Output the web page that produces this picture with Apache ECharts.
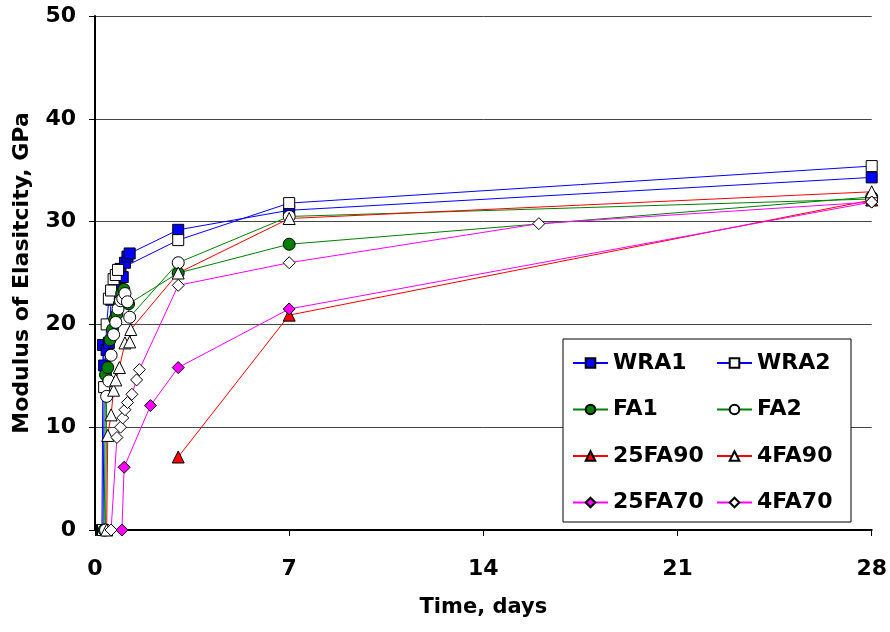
<!DOCTYPE html>
<html>
<head>
<meta charset="utf-8">
<script src="https://cdn.jsdelivr.net/npm/echarts@6/dist/echarts.min.js"></script>
<style>
html,body{margin:0;padding:0;background:#fff;}
#main{width:890px;height:632px;}
</style>
</head>
<body>
<div id="main"></div>
<script>
// days and modulus values (GPa)
var xTicks = [0, 7, 14, 21, 28];
var yTicks = [0, 10, 20, 30, 40, 50];

var wra1Days = [0.25, 0.29, 0.33, 0.42, 0.5, 0.58, 0.67, 0.75, 0.83, 0.92, 1.0, 1.08, 1.17, 1.25, 3, 7, 28];
var wra1Vals = [0, 18.0, 16.0, 17.5, 18.2, 22.4, 23.0, 23.8, 24.5, 25.4, 24.6, 26.0, 26.6, 26.9, 29.2, 31.1, 34.3];

var wra2Days = [0.29, 0.33, 0.42, 0.5, 0.58, 0.67, 0.75, 0.83, 3, 7, 28];
var wra2Vals = [0, 13.9, 20.0, 22.5, 23.3, 24.4, 24.8, 25.3, 28.2, 31.8, 35.4];

var fa1Days = [0.33, 0.38, 0.46, 0.54, 0.63, 0.71, 0.79, 0.88, 0.96, 1.04, 1.13, 1.21, 3, 7, 28];
var fa1Vals = [0, 15.1, 15.8, 18.5, 19.5, 20.5, 21.0, 22.0, 23.0, 23.4, 22.3, 22.0, 25.0, 27.8, 32.4];

var fa2Days = [0.38, 0.42, 0.5, 0.58, 0.67, 0.75, 0.83, 0.92, 1.0, 1.08, 1.17, 1.25, 3, 7, 28];
var fa2Vals = [0, 13.0, 14.5, 17.0, 19.0, 20.2, 21.5, 22.3, 22.5, 23.0, 22.2, 20.7, 26.0, 30.5, 32.2];

var fa25_90Days = [3, 7, 28];
var fa25_90Vals = [7.1, 20.9, 32.1];

var fa4_90Days = [0.42, 0.46, 0.58, 0.67, 0.75, 0.88, 1.08, 1.25, 1.29, 3, 7, 28];
var fa4_90Vals = [0, 9.2, 11.2, 13.6, 14.6, 15.8, 18.2, 18.3, 19.5, 25.0, 30.3, 32.9];

var fa25_70Days = [0.97, 1.05, 2.0, 3, 7, 28];
var fa25_70Vals = [0, 6.1, 12.1, 15.8, 21.5, 31.9];

var fa4_70Days = [0.58, 0.79, 0.92, 1.0, 1.08, 1.17, 1.33, 1.5, 1.6, 3, 7, 16, 28];
var fa4_70Vals = [0, 9.0, 10.0, 10.9, 11.7, 12.4, 13.2, 14.6, 15.6, 23.8, 26.0, 29.8, 31.9];

function pairs(days, vals) {
	var out = [];
	for (var i = 0; i < days.length; i++) out.push([days[i], vals[i]]);
	return out;
}

var myChart = echarts.init(document.getElementById('main'));
var font = 'DejaVu Sans, Arial, sans-serif';

function mkSeries(name, days, vals, color, symbol, filled) {
	return {
		name: name,
		type: 'line',
		data: pairs(days, vals),
		symbol: symbol,
		symbolSize: symbol == 'rect' ? 11 : 12,
		showAllSymbol: true,
		lineStyle: { color: color, width: 1 },
		itemStyle: { color: filled ? color : '#fff', borderColor: '#000', borderWidth: 1 },
		emphasis: { disabled: true },
		animation: false
	};
}

var legendText = { fontFamily: font, fontWeight: 'bold', fontSize: 22, color: '#000', lineHeight: 26 };

var option = {
	animation: false,
	grid: { left: 95, right: 18, top: 16, bottom: 102 },
	graphic: [{
		type: 'rect',
		shape: { x: 563, y: 339, width: 288, height: 183 },
		style: { fill: '#fff', stroke: '#000', lineWidth: 1 },
		z: 90
	}],
	legend: [{
		orient: 'vertical',
		left: 567, top: 345,
		itemWidth: 35, itemHeight: 12,
		itemGap: 20.5,
		z: 100,
		data: ['WRA1', 'FA1', '25FA90', '25FA70'],
		textStyle: legendText
	}, {
		orient: 'vertical',
		left: 711, top: 345,
		itemWidth: 35, itemHeight: 12,
		itemGap: 20.5,
		z: 100,
		data: ['WRA2', 'FA2', '4FA90', '4FA70'],
		textStyle: legendText
	}],
	xAxis: {
		type: 'value',
		min: 0, max: 28, interval: 7,
		name: 'Time, days',
		nameLocation: 'middle',
		nameGap: 67,
		nameTextStyle: { fontFamily: font, fontWeight: 'bold', fontSize: 21, color: '#000' },
		axisLine: { lineStyle: { color: '#000', width: 2 } },
		axisTick: { show: true, length: 6, lineStyle: { color: '#000' } },
		axisLabel: { fontFamily: font, fontWeight: 'bold', fontSize: 22, color: '#000', margin: 28,
			customValues: xTicks },
		splitLine: { show: false }
	},
	yAxis: {
		type: 'value',
		min: 0, max: 50, interval: 10,
		name: 'Modulus of Elasitcity, GPa',
		nameLocation: 'middle',
		nameGap: 62,
		nameTextStyle: { fontFamily: font, fontWeight: 'bold', fontSize: 22, color: '#000' },
		axisLine: { show: true, lineStyle: { color: '#000', width: 2 } },
		axisTick: { show: true, length: 6, lineStyle: { color: '#000' } },
		axisLabel: { fontFamily: font, fontWeight: 'bold', fontSize: 22, color: '#000', margin: 19,
			customValues: yTicks },
		splitLine: { show: true, lineStyle: { color: '#444', width: 1 } }
	},
	series: [
		mkSeries('WRA1', wra1Days, wra1Vals, '#0000ff', 'rect', true),
		mkSeries('WRA2', wra2Days, wra2Vals, '#0000ff', 'rect', false),
		mkSeries('FA1', fa1Days, fa1Vals, '#008000', 'circle', true),
		mkSeries('FA2', fa2Days, fa2Vals, '#008000', 'circle', false),
		mkSeries('25FA90', fa25_90Days, fa25_90Vals, '#ff0000', 'triangle', true),
		mkSeries('4FA90', fa4_90Days, fa4_90Vals, '#ff0000', 'triangle', false),
		mkSeries('25FA70', fa25_70Days, fa25_70Vals, '#ff00ff', 'diamond', true),
		mkSeries('4FA70', fa4_70Days, fa4_70Vals, '#ff00ff', 'diamond', false)
	]
};

myChart.setOption(option);
window.onresize = myChart.resize;
</script>
</body>
</html>
